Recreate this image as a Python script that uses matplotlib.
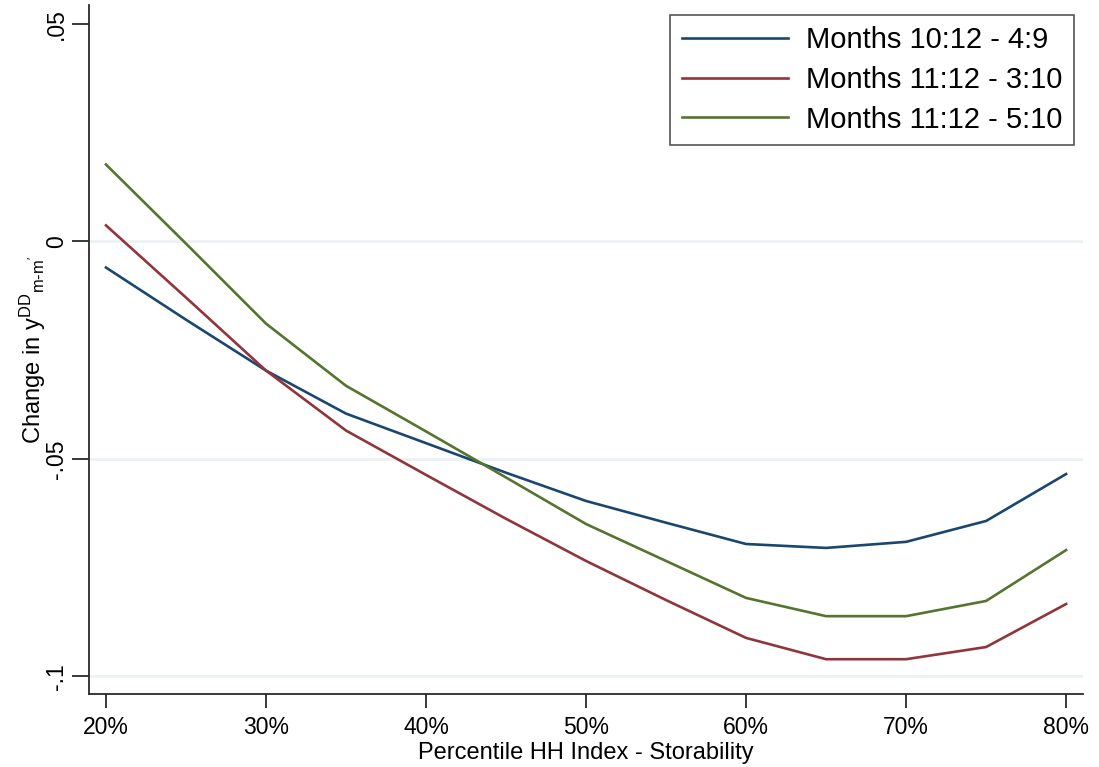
import matplotlib
matplotlib.use("Agg")
import matplotlib.pyplot as plt
from matplotlib.ticker import FixedLocator

plt.rcParams["font.family"] = ["Liberation Sans", "DejaVu Sans"]
plt.rcParams["mathtext.fontset"] = "custom"
plt.rcParams["mathtext.rm"] = "Liberation Sans"
plt.rcParams["mathtext.it"] = "Liberation Sans:italic"

# percentile of the HH index (storability)
pct = [20, 25, 30, 35, 40, 45, 50, 55, 60, 65, 70, 75, 80]

m10_12_4_9 = [-0.0060, -0.0180, -0.0297, -0.0396, -0.0464, -0.0532, -0.0597,
              -0.0647, -0.0696, -0.0705, -0.0691, -0.0643, -0.0535]
m11_12_3_10 = [0.0037, -0.0129, -0.0297, -0.0435, -0.0537, -0.0638, -0.0735,
               -0.0825, -0.0912, -0.0961, -0.0961, -0.0933, -0.0834]
m11_12_5_10 = [0.0177, -0.0005, -0.0189, -0.0332, -0.0437, -0.0543, -0.0650,
               -0.0735, -0.0820, -0.0862, -0.0862, -0.0827, -0.0710]

labels = ["Months 10:12 - 4:9", "Months 11:12 - 3:10", "Months 11:12 - 5:10"]
colors = ["#1a476f", "#90353b", "#55752f"]

y_ticks = [0.05, 0, -0.05, -0.1]
y_tick_labels = [".05", "0", "-.05", "-.1"]
x_ticks = [20, 30, 40, 50, 60, 70, 80]

fig = plt.figure(figsize=(10.99, 7.67), dpi=100)
ax = fig.add_axes([0.081, 0.0952, 0.9045, 0.8983])

for yv in [0, -0.05, -0.1]:
    ax.axhline(yv, color="#eaf2f3", lw=2.0, zorder=0)

for series, lab, c in zip([m10_12_4_9, m11_12_3_10, m11_12_5_10], labels, colors):
    ax.plot(pct, series, color=c, lw=1.9, label=lab, solid_joinstyle="miter")

ax.set_xlim(18.94, 81.06)
ax.set_ylim(-0.1041, 0.0544)

ax.xaxis.set_major_locator(FixedLocator(x_ticks))
ax.set_xticklabels([f"{v}%" for v in x_ticks])
ax.yaxis.set_major_locator(FixedLocator(y_ticks))
ax.set_yticklabels(y_tick_labels, rotation=90, va="center")

for s in ["top", "right"]:
    ax.spines[s].set_visible(False)
for s in ["left", "bottom"]:
    ax.spines[s].set_color("#2a2a2a")
    ax.spines[s].set_linewidth(1.3)

ax.tick_params(axis="x", length=10, width=1.3, color="#2a2a2a",
               labelsize=16.5, pad=6)
ax.tick_params(axis="y", length=12, width=1.3, color="#2a2a2a",
               labelsize=16.5, pad=3)

ax.set_xlabel("Percentile HH Index - Storability", fontsize=17, labelpad=2)
ax.set_ylabel(r"Change in y$^{\mathrm{DD}}$$_{\mathrm{m\text{-}m'}}$",
              fontsize=17, labelpad=-2)

leg = ax.legend(loc="upper right", bbox_to_anchor=(0.991, 0.986),
                fontsize=21, frameon=True, fancybox=False,
                handlelength=3.63, handletextpad=0.62, labelspacing=0.4,
                borderpad=0.4, borderaxespad=0)
leg.get_frame().set_edgecolor("#2a2a2a")
leg.get_frame().set_linewidth(1.2)

fig.savefig("out.png", dpi=100, facecolor="white")
